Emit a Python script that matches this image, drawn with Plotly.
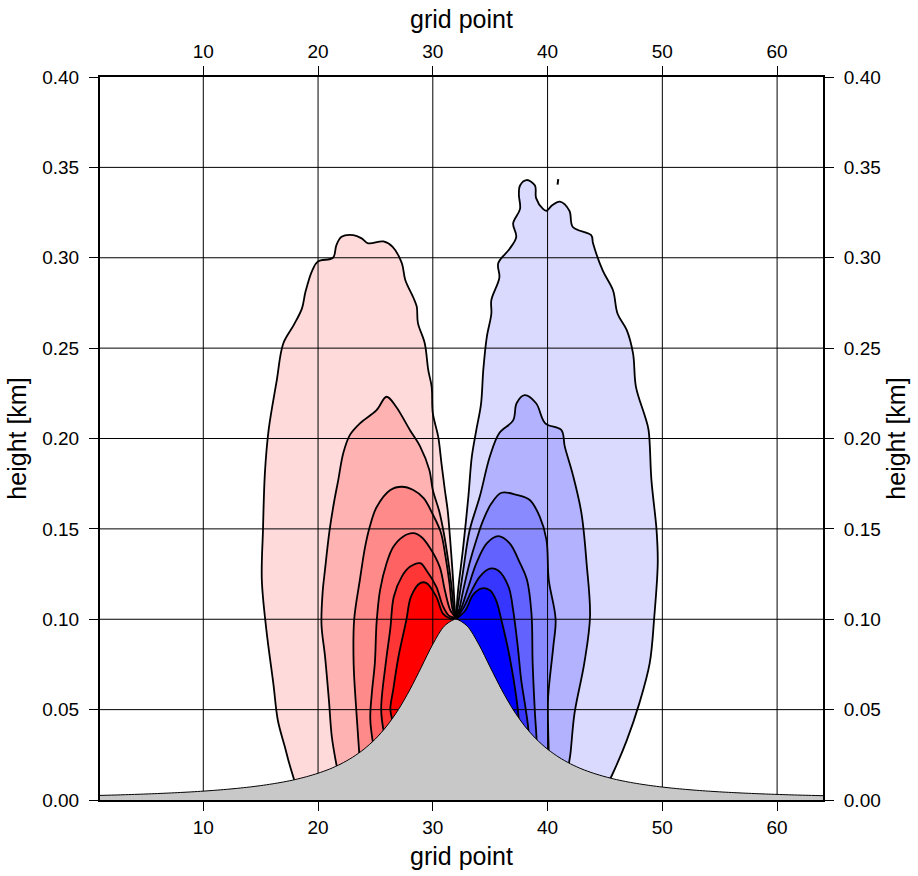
import plotly.graph_objects as go

# ---------------- data ----------------
grid_ticks = [10, 20, 30, 40, 50, 60]
height_ticks = [0.0, 0.05, 0.10, 0.15, 0.20, 0.25, 0.30, 0.35, 0.40]

hill_x = list(range(1, 65))
hill_h = [0.00254, 0.00270, 0.00289, 0.00309, 0.00332, 0.00357, 0.00385, 0.00416,
          0.00451, 0.00491, 0.00536, 0.00588, 0.00648, 0.00716, 0.00796, 0.00890,
          0.0100, 0.0113, 0.0129, 0.0148, 0.0171, 0.0200, 0.0236, 0.0281,
          0.0338, 0.0410, 0.0500, 0.0610, 0.0735, 0.0862, 0.0962, 0.1000,
          0.0962, 0.0862, 0.0735, 0.0610, 0.0500, 0.0410, 0.0338, 0.0281,
          0.0236, 0.0200, 0.0171, 0.0148, 0.0129, 0.0113, 0.0100, 0.00890,
          0.00796, 0.00716, 0.00648, 0.00588, 0.00536, 0.00491, 0.00451, 0.00416,
          0.00385, 0.00357, 0.00332, 0.00309, 0.00289, 0.00270, 0.00254, 0.00238]

# red (positive) contour levels, outermost first: path from hill (left) over the top to the peak
red1_x = [17.95, 17.5, 17.1, 16.5, 16.1, 15.5, 15.1, 15.2, 15.37, 15.7, 16.4, 16.97, 17.9, 18.6,
          18.9, 19.5, 20.0, 21.3, 21.6, 22.05, 23.07, 23.8, 24.37, 25.7, 26.5, 27.3, 27.6, 28.3,
          28.6, 28.7, 29.3, 29.6, 29.9, 30.0, 30.47, 30.76, 31.05, 31.3, 31.5, 31.7, 31.85, 31.93, 32.0]
red1_y = [0.0105, 0.020, 0.0296, 0.044, 0.0647, 0.094, 0.122, 0.149, 0.181, 0.205, 0.232, 0.2526, 0.263, 0.272,
          0.281, 0.293, 0.298, 0.300, 0.307, 0.3116, 0.3125, 0.3107, 0.308, 0.309, 0.306, 0.297, 0.2877, 0.278,
          0.273, 0.264, 0.2526, 0.238, 0.2286, 0.214, 0.201, 0.186, 0.1715, 0.160, 0.145, 0.128, 0.113, 0.105, 0.100]

red2_x = [21.65, 21.2, 20.95, 20.6, 20.3, 20.4, 20.6, 21.0, 21.4, 21.76, 22.2, 22.78, 23.65, 25.1,
          25.97, 26.8, 28.0, 28.9, 29.7, 30.0, 30.55, 30.95, 31.35, 31.65, 31.82, 32.0]
red2_y = [0.018, 0.035, 0.055, 0.080, 0.097, 0.115, 0.127, 0.149, 0.165, 0.177, 0.192, 0.202, 0.2084, 0.2157,
          0.2231, 0.2176, 0.2047, 0.1955, 0.1826, 0.1715, 0.160, 0.148, 0.132, 0.117, 0.106, 0.100]

red3_x = [23.6, 23.35, 23.1, 23.15, 23.65, 24.1, 24.5, 25.1, 26.3, 27.3, 28.3, 29.2, 30.0, 30.7,
          31.1, 31.45, 31.7, 32.0]
red3_y = [0.025, 0.048, 0.0757, 0.100, 0.122, 0.140, 0.151, 0.162, 0.1715, 0.1733, 0.1715, 0.167, 0.158, 0.148,
          0.135, 0.120, 0.106, 0.100]

red4_x = [24.8, 24.55, 24.7, 24.95, 25.1, 25.4, 25.97, 26.55, 27.4, 28.3, 29.0, 29.7, 30.6, 31.05, 31.52, 32.0]
red4_y = [0.031, 0.045, 0.060, 0.0757, 0.098, 0.116, 0.131, 0.140, 0.1457, 0.1476, 0.1455, 0.140, 0.129, 0.116,
          0.105, 0.100]

red5_x = [25.75, 25.5, 25.9, 26.3, 26.6, 27.3, 28.0, 28.9, 29.45, 30.3, 30.9, 31.4, 32.0]
red5_y = [0.037, 0.050, 0.0757, 0.095, 0.1125, 0.1236, 0.129, 0.131, 0.127, 0.118, 0.107, 0.102, 0.100]

red6_x = [26.55, 26.3, 26.55, 27.0, 27.7, 28.1, 28.9, 29.45, 30.3, 30.9, 31.5, 32.0]
red6_y = [0.043, 0.050, 0.061, 0.079, 0.0997, 0.1125, 0.120, 0.120, 0.1125, 0.103, 0.1005, 0.100]

# blue (negative) contour levels, outermost first: path from the peak over the top to the hill (right)
blue1_x = [32.0, 32.08, 32.2, 32.65, 33.1, 33.4, 33.8, 34.2, 34.4, 34.7, 35.1, 35.1, 35.8, 35.7, 36.7,
           37.27, 37.0, 37.6, 37.5, 37.6, 38.17, 38.9, 39.0, 39.6, 39.9, 40.4, 41.07, 41.9, 42.2, 43.8,
           43.96, 44.8, 45.7, 46.1, 46.9, 47.45, 47.7, 48.5, 48.8, 49.05, 49.5, 49.6, 49.3, 48.9, 48.0,
           46.9, 45.56, 45.4]
blue1_y = [0.100, 0.106, 0.116, 0.140, 0.168, 0.190, 0.205, 0.219, 0.238, 0.256, 0.269, 0.2766, 0.289, 0.297, 0.305,
           0.3116, 0.319, 0.327, 0.335, 0.340, 0.343, 0.340, 0.333, 0.327, 0.326, 0.329, 0.331, 0.326, 0.317, 0.3125,
           0.308, 0.293, 0.282, 0.269, 0.260, 0.247, 0.2286, 0.212, 0.2047, 0.177, 0.149, 0.131, 0.1015, 0.0757, 0.0536,
           0.033, 0.013, 0.011]

blue2_x = [32.0, 32.2, 32.65, 33.2, 34.1, 34.97, 35.8, 37.0, 37.3, 38.0, 39.0, 39.8, 41.2, 41.5, 42.2,
           42.95, 43.4, 43.7, 43.2, 42.35, 42.0, 41.85]
blue2_y = [0.100, 0.108, 0.127, 0.149, 0.168, 0.190, 0.203, 0.210, 0.2195, 0.224, 0.2195, 0.2084, 0.2047, 0.1955, 0.180,
           0.1587, 0.131, 0.1015, 0.0757, 0.048, 0.026, 0.019]

blue3_x = [32.0, 32.32, 32.65, 33.2, 33.8, 34.4, 35.1, 35.98, 37.3, 38.45, 39.3, 39.9, 40.1, 40.7,
           40.5, 40.05, 40.05, 40.1]
blue3_y = [0.100, 0.106, 0.116, 0.131, 0.144, 0.155, 0.164, 0.170, 0.1688, 0.166, 0.157, 0.144, 0.122, 0.100,
           0.085, 0.057, 0.039, 0.026]

blue4_x = [32.0, 32.48, 33.1, 33.8, 34.7, 35.7, 36.7, 37.6, 38.2, 38.6, 38.7, 38.9, 39.05]
blue4_y = [0.100, 0.106, 0.118, 0.131, 0.142, 0.146, 0.142, 0.131, 0.122, 0.103, 0.0757, 0.048, 0.032]

blue5_x = [32.0, 32.65, 33.4, 34.1, 34.97, 35.7, 36.6, 37.0, 37.4, 37.7, 38.1, 38.35]
blue5_y = [0.100, 0.106, 0.116, 0.1236, 0.128, 0.127, 0.118, 0.105, 0.085, 0.0665, 0.050, 0.037]

blue6_x = [32.0, 32.85, 33.5, 34.2, 34.97, 35.5, 35.97, 36.7, 37.27, 37.5]
blue6_y = [0.100, 0.105, 0.1135, 0.117, 0.116, 0.1107, 0.0997, 0.079, 0.057, 0.043]

speck_x = [40.87, 40.93]
speck_y = [0.3405, 0.3435]

red_colors = ['#FFDADA', '#FFB2B2', '#FF8A8A', '#FF6262', '#FF3636', '#FF0000']
blue_colors = ['#DADAFF', '#B2B2FF', '#8A8AFF', '#6262FF', '#3636FF', '#0000FF']

red_levels = [(red1_x, red1_y), (red2_x, red2_y), (red3_x, red3_y),
              (red4_x, red4_y), (red5_x, red5_y), (red6_x, red6_y)]
blue_levels = [(blue1_x, blue1_y), (blue2_x, blue2_y), (blue3_x, blue3_y),
               (blue4_x, blue4_y), (blue5_x, blue5_y), (blue6_x, blue6_y)]

peak_x = hill_x[hill_h.index(max(hill_h))]

# ---------------- figure ----------------
fig = go.Figure()
line_style = dict(color='black', width=1.8, shape='spline', smoothing=1.0)


def red_poly(xs, ys):
    # close the region underneath the hill (hidden by the hill fill)
    return xs + [peak_x, xs[0]], ys + [0.0, 0.0]


def blue_poly(xs, ys):
    return xs + [xs[-1], peak_x], ys + [0.0, 0.0]


polys = [red_poly(x, y) for x, y in red_levels] + [blue_poly(x, y) for x, y in blue_levels]
colors = red_colors + blue_colors

for (px, py), c in zip(polys, colors):
    fig.add_trace(go.Scatter(x=px, y=py, mode='lines', fill='toself', fillcolor=c,
                             line=dict(width=0, shape='spline', smoothing=1.0, color=c),
                             hoverinfo='skip', showlegend=False))

# grid lines (above the shading, below the hill)
gx, gy = [], []
for t in grid_ticks:
    gx += [t, t, None]
    gy += [height_ticks[0], height_ticks[-1], None]
for t in height_ticks[1:-1]:
    gx += [hill_x[0], hill_x[-1], None]
    gy += [t, t, None]
fig.add_trace(go.Scatter(x=gx, y=gy, mode='lines', line=dict(color='black', width=1),
                         hoverinfo='skip', showlegend=False))

for px, py in polys:
    fig.add_trace(go.Scatter(x=px, y=py, mode='lines', line=line_style,
                             hoverinfo='skip', showlegend=False))

fig.add_trace(go.Scatter(x=speck_x, y=speck_y, mode='lines', line=dict(color='black', width=2),
                         hoverinfo='skip', showlegend=False))

fig.add_trace(go.Scatter(x=hill_x, y=hill_h, mode='lines', fill='tozeroy', fillcolor='#C8C8C8',
                         line=dict(color='black', width=1, shape='spline', smoothing=0.8),
                         hoverinfo='skip', showlegend=False))

# invisible trace so the top / right axes exist
fig.add_trace(go.Scatter(x=hill_x, y=hill_h, xaxis='x2', yaxis='y2', mode='lines', opacity=0,
                         hoverinfo='skip', showlegend=False))

font_family = 'Liberation Sans, Arial, Helvetica, sans-serif'
tick_font = dict(family=font_family, size=19, color='black')
title_font = dict(family=font_family, size=25, color='black')

common_x = dict(range=[1, 64], tickvals=grid_ticks, ticks='outside', ticklen=9, tickwidth=1,
                tickcolor='black', showline=True, linewidth=2, linecolor='black', showgrid=False,
                zeroline=False, tickfont=tick_font, fixedrange=True, automargin=False)
common_y = dict(range=[0, 0.4], tickvals=height_ticks, tickformat='.2f', ticks='outside', ticklen=9,
                tickwidth=1, tickcolor='black', showline=True, linewidth=2, linecolor='black',
                showgrid=False, zeroline=False, tickfont=tick_font, fixedrange=True, automargin=False)

fig.update_layout(
    width=918, height=876,
    margin=dict(l=100, r=95, t=77, b=76, autoexpand=False),
    paper_bgcolor='white', plot_bgcolor='white',
    showlegend=False,
    xaxis=dict(common_x, side='bottom', anchor='y',
               title=dict(text='grid point', font=title_font, standoff=11)),
    xaxis2=dict(common_x, side='top', overlaying='x', anchor='y',
                title=dict(text='grid point', font=title_font, standoff=6)),
    yaxis=dict(common_y, side='left', anchor='x', ticklabelstandoff=6,
               title=dict(text='height [km]', font=title_font, standoff=8)),
    yaxis2=dict(common_y, side='right', overlaying='y', anchor='x', ticklabelstandoff=6,
                title=dict(text='height [km]', font=title_font, standoff=8)),
)

fig.write_html('out.html')
